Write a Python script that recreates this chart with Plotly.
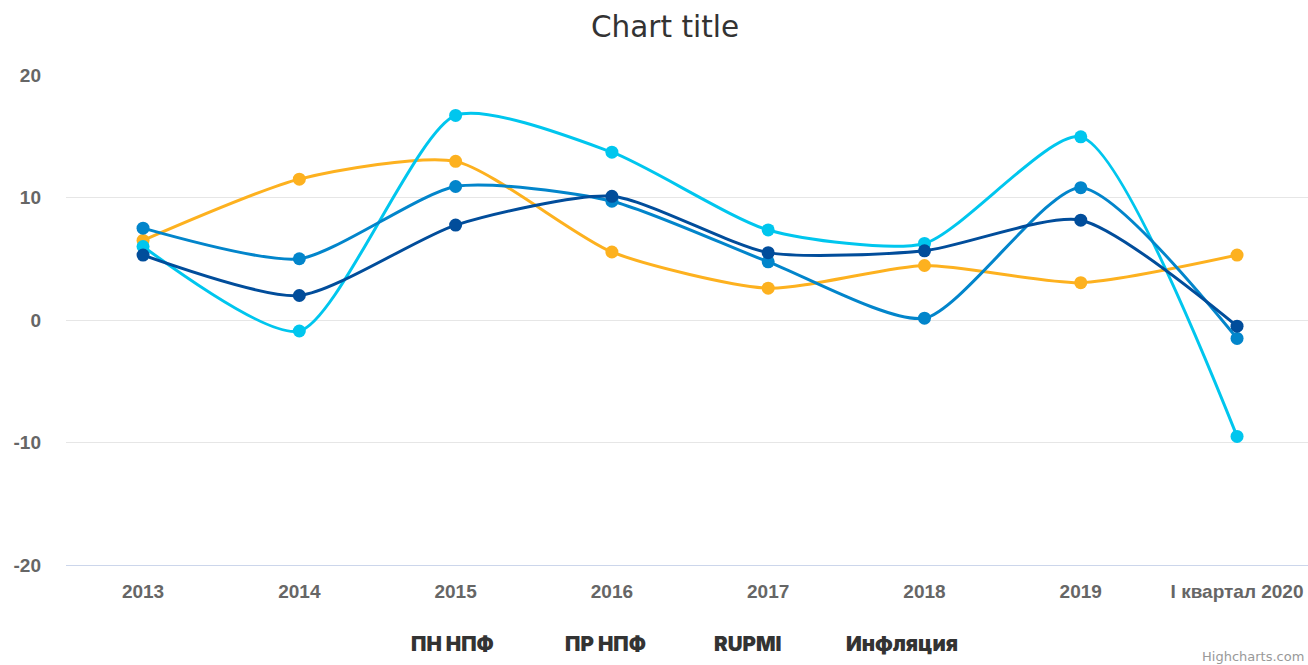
import plotly.graph_objects as go

categories = ["2013", "2014", "2015", "2016", "2017", "2018", "2019", "I квартал 2020"]
series_names = ["ПН НПФ", "ПР НПФ", "RUPMI", "Инфляция"]
pn_npf = [5.3, 2.0, 7.75, 10.1, 5.5, 5.65, 8.15, -0.5]
pr_npf = [7.5, 5.0, 10.9, 9.7, 4.75, 0.15, 10.8, -1.5]
rupmi = [6.0, -0.9, 16.7, 13.7, 7.35, 6.25, 14.95, -9.5]
inflation = [6.5, 11.5, 12.95, 5.55, 2.6, 4.45, 3.05, 5.3]
colors = ["#014d9b", "#0285cb", "#00c6ee", "#fdb11f"]
y_ticks = [-20, -10, 0, 10, 20]
y_tick_text = ["-20", "-10", "0", "10", "20"]

W, H = 1308, 665
L, T, B = 66, 75, 100

fig = go.Figure()
traces = []
for name, vals, col in zip(series_names, [pn_npf, pr_npf, rupmi, inflation], colors):
    traces.append(go.Scatter(
        x=categories, y=vals, name=name, mode="lines+markers",
        line=dict(color=col, width=3, shape="spline", smoothing=0.65),
        marker=dict(color=col, size=13),
        showlegend=False,
    ))
for t in [traces[3], traces[2], traces[1], traces[0]]:
    fig.add_trace(t)

plot_w = W - L
plot_h = H - T - B
legend_px = [452, 605, 748, 902]
annotations = []
for name, px in zip(series_names, legend_px):
    annotations.append(dict(text=name, x=(px - L) / plot_w, y=-(643 - 565) / plot_h,
                            xref="paper", yref="paper",
                            xanchor="center", yanchor="middle", showarrow=False,
                            font=dict(family="Inter", size=20.5, color="#333333", weight=900)))
annotations.append(dict(text="Highcharts.com", x=(1306 - L) / plot_w, y=-(656 - 565) / plot_h,
                        xref="paper", yref="paper",
                        xanchor="right", yanchor="middle", showarrow=False,
                        font=dict(family="DejaVu Sans", size=13, color="#999999")))

fig.update_layout(
    width=W, height=H,
    margin=dict(l=L, r=0, t=T, b=B),
    paper_bgcolor="white", plot_bgcolor="white",
    title=dict(text="Chart title", x=665 / W, xanchor="center", y=1 - 27 / H, yanchor="middle",
               font=dict(family="DejaVu Sans", size=29.5, color="#333333")),
    xaxis=dict(type="category", showgrid=False, showline=True, linecolor="#ccd6eb", linewidth=1,
               ticks="", tickfont=dict(family="Liberation Sans", size=19, color="#666666", weight="bold"),
               ticklabelstandoff=9, range=[-0.493, 7.454]),
    yaxis=dict(range=[-20, 20], tickvals=y_ticks, ticktext=y_tick_text, showgrid=True,
               gridcolor="#e6e6e6", gridwidth=1,
               zeroline=False, showline=False, ticks="",
               tickfont=dict(family="Liberation Sans", size=19, color="#666666", weight="bold"),
               ticklabelstandoff=24),
    annotations=annotations,
)
fig.write_html("out.html", config={"displayModeBar": False},
               post_script="document.body.style.margin='0';document.body.style.overflow='hidden';")
